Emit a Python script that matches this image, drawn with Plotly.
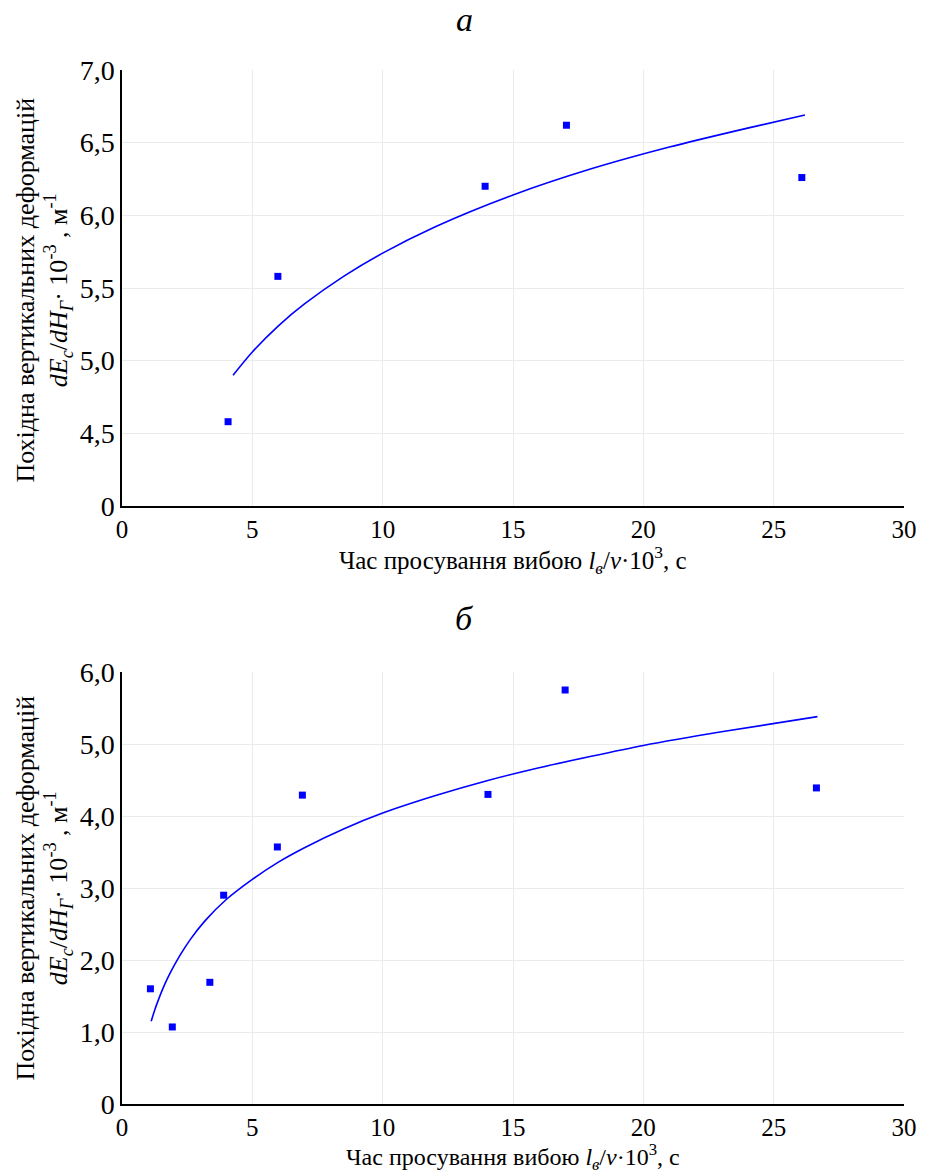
import plotly.graph_objects as go
from plotly.subplots import make_subplots

# ---- Data ----
# Panel a
a_x = [4.07, 5.98, 13.93, 17.05, 26.08]
a_y = [4.58, 5.58, 6.20, 6.62, 6.26]
a_curve_x = [4.26, 5.0, 6.0, 7.0, 8.5, 10.0, 12.0, 15.0, 18.0, 21.0, 24.0, 26.2]
a_curve_y = [4.90, 5.06, 5.24, 5.39, 5.58, 5.74, 5.92, 6.14, 6.32, 6.47, 6.60, 6.69]

# Panel б
b_x = [1.09, 1.93, 3.37, 3.90, 5.96, 6.92, 14.04, 17.0, 26.64]
b_y = [1.60, 1.07, 1.69, 2.90, 3.57, 4.29, 4.30, 5.75, 4.39]
b_curve_x = [1.12, 1.25, 1.4, 1.6, 1.85, 2.2, 2.63, 3.2, 4.0, 5.0, 6.0, 7.0,
             8.5, 10.0, 12.0, 14.0, 16.0, 18.0, 20.0, 23.0, 26.68]
b_curve_y = [1.15, 1.30, 1.45, 1.63, 1.82, 2.05, 2.29, 2.55, 2.84, 3.12, 3.36, 3.56,
             3.82, 4.04, 4.28, 4.49, 4.67, 4.83, 4.98, 5.17, 5.38]

x_ticks = [0, 5, 10, 15, 20, 25, 30]
a_yticks = [4.0, 4.5, 5.0, 5.5, 6.0, 6.5, 7.0]
a_yticktext = ["0", "4,5", "5,0", "5,5", "6,0", "6,5", "7,0"]
b_yticks = [0, 1, 2, 3, 4, 5, 6]
b_yticktext = ["0", "1,0", "2,0", "3,0", "4,0", "5,0", "6,0"]

panel_labels = ["а", "б"]
x_title = "Час просування вибою <i>l<sub>в</sub></i>/<i>v</i>·10<sup>3</sup>, с"
y_title = ("Похідна вертикальних деформацій<br>"
           "<i>dE<sub>c</sub></i>/<i>dH<sub>Г</sub></i>· 10<sup>-3</sup> , м<sup>-1</sup>")

FONT = "Liberation Serif, Times New Roman, serif"
BLUE = "#0000ff"

W, H = 929, 1176
ML, MR, MT, MB = 122, 19, 70, 69
PH = H - MT - MB  # paper height


def py(pix):
    return (H - MB - pix) / PH


def px(pix):
    return (pix - ML) / (W - ML - MR)


fig = make_subplots(rows=2, cols=1)

fig.add_trace(go.Scatter(x=a_x, y=a_y, mode="markers",
                         marker=dict(symbol="square", size=7, color=BLUE),
                         showlegend=False), row=1, col=1)
fig.add_trace(go.Scatter(x=a_curve_x, y=a_curve_y, mode="lines",
                         line=dict(color=BLUE, width=1.6, shape="spline", smoothing=0.8),
                         showlegend=False), row=1, col=1)
fig.add_trace(go.Scatter(x=b_x, y=b_y, mode="markers",
                         marker=dict(symbol="square", size=7, color=BLUE),
                         showlegend=False), row=2, col=1)
fig.add_trace(go.Scatter(x=b_curve_x, y=b_curve_y, mode="lines",
                         line=dict(color=BLUE, width=1.6, shape="spline", smoothing=0.8),
                         showlegend=False), row=2, col=1)

axis_common = dict(showline=True, linecolor="black", linewidth=1.5,
                   showgrid=True, gridcolor="#ebebeb", gridwidth=1,
                   zeroline=False, ticks="")
xfont = dict(family=FONT, size=25, color="black")
yfont = dict(family=FONT, size=28, color="black")

fig.update_layout(
    width=W, height=H,
    margin=dict(l=ML, r=MR, t=MT, b=MB),
    paper_bgcolor="white", plot_bgcolor="white",
    font=dict(family=FONT, color="black"),
    xaxis=dict(domain=[0, 1], range=[0, 30], tickvals=x_ticks,
               anchor="y", tickfont=xfont, **axis_common),
    yaxis=dict(domain=[py(506), 1], range=[4, 7], tickvals=a_yticks,
               ticktext=a_yticktext, anchor="x", tickfont=yfont, **axis_common),
    xaxis2=dict(domain=[0, 1], range=[0, 30], tickvals=x_ticks,
                anchor="y2", tickfont=xfont, **axis_common),
    yaxis2=dict(domain=[py(1104), py(672)], range=[0, 6], tickvals=b_yticks,
                ticktext=b_yticktext, anchor="x2", tickfont=yfont, **axis_common),
)

ann = []
# panel labels
for lab, ypix in zip(panel_labels, [20, 618]):
    ann.append(dict(text=f"<i>{lab}</i>", xref="paper", yref="paper",
                    x=px(467), y=py(ypix), xanchor="center", yanchor="middle",
                    showarrow=False, font=dict(family=FONT, size=34, color="black")))
# x titles
ann.append(dict(text=x_title, xref="paper", yref="paper",
                x=px(516), y=py(560), xanchor="center", yanchor="middle",
                showarrow=False, font=dict(family=FONT, size=25, color="black")))
ann.append(dict(text=x_title, xref="paper", yref="paper",
                x=px(516), y=py(1176), xanchor="center", yanchor="bottom",
                showarrow=False, font=dict(family=FONT, size=24, color="black")))
# y titles
for ypix in [290, 888]:
    ann.append(dict(text=y_title, xref="paper", yref="paper",
                    x=px(43), y=py(ypix), xanchor="center", yanchor="middle",
                    textangle=-90, showarrow=False,
                    font=dict(family=FONT, size=26, color="black")))
fig.update_layout(annotations=ann)

fig.write_html("out.html")
